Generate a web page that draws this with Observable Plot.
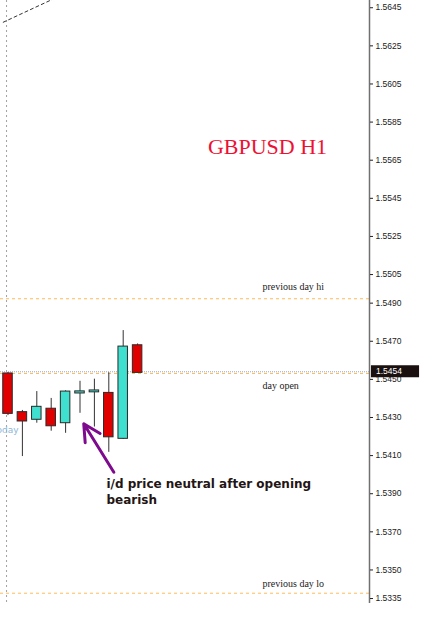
<!DOCTYPE html>
<html>
<head>
<meta charset="utf-8">
<script src="https://cdn.jsdelivr.net/npm/d3@7"></script>
<script src="https://cdn.jsdelivr.net/npm/@observablehq/plot@0.6"></script>
<style>
  html, body { margin: 0; padding: 0; background: #ffffff; }
  #chart svg { display: block; overflow: hidden; }
</style>
</head>
<body>
<div id="chart"></div>
<script>
// ---- Data (GBPUSD H1 candles) ----
const barIndex = [0, 1, 2, 3, 4, 5, 6, 7, 8, 9];
const opens  = [1.54531, 1.54328, 1.54288, 1.54346, 1.54270, 1.54426, 1.54432, 1.54429, 1.54188, 1.54679];
const highs  = [1.54536, 1.54337, 1.54436, 1.54400, 1.54440, 1.54490, 1.54501, 1.54535, 1.54756, 1.54686];
const lows   = [1.54310, 1.54095, 1.54270, 1.54228, 1.54217, 1.54322, 1.54250, 1.54117, 1.54185, 1.54534];
const closes = [1.54319, 1.54279, 1.54356, 1.54254, 1.54436, 1.54437, 1.54442, 1.54196, 1.54672, 1.54534];

const tickValues = [1.5645, 1.5625, 1.5605, 1.5585, 1.5565, 1.5545, 1.5525, 1.5505, 1.5490,
                    1.5470, 1.5450, 1.5430, 1.5410, 1.5390, 1.5370, 1.5350, 1.5335];

const prevDayHi = 1.54923;
const prevDayLo = 1.53378;
const dayOpen = 1.54531;
const currentPrice = 1.5454;
const todayBar = -0.1;

const levelLabels = ["previous day hi", "day open", "previous day lo"];
const levelLabelY = [1.54987, 1.54464, 1.53427];

const title = "GBPUSD H1";
const noteLines = ["i/d price neutral after opening", "bearish"];
const noteY = [1.53948, 1.53864];

const trendX = [-0.33, 3.6];
const trendY = [1.56374, 1.56512];

const arrowFrom = {x: 7.35, y: 1.54013};
const arrowTo = {x: 5.26, y: 1.54267};

// ---- Build table ----
const candles = barIndex.map((i, k) => ({
  i, open: opens[k], high: highs[k], low: lows[k], close: closes[k],
  bull: closes[k] >= opens[k]
}));

const xDomain = [-0.521, 25.104];
const yDomain = [1.53324, 1.56488];
const halfW = 0.33;

const chart = Plot.plot({
  width: 421,
  height: 625,
  marginLeft: 0,
  marginRight: 52,
  marginTop: 0,
  marginBottom: 22,
  style: {background: "#ffffff", overflow: "hidden"},
  x: {domain: xDomain, axis: null},
  y: {domain: yDomain, axis: null},
  marks: [
    // vertical "today" separator
    Plot.ruleX([todayBar], {stroke: "#a0a0a0", strokeDasharray: "2,3", strokeWidth: 1}),
    // levels
    Plot.ruleY([prevDayHi], {x1: xDomain[0], x2: xDomain[1], stroke: "#ffbb55", strokeDasharray: "3,3", strokeWidth: 1}),
    Plot.ruleY([prevDayLo], {x1: xDomain[0], x2: xDomain[1], stroke: "#ffbb55", strokeDasharray: "3,3", strokeWidth: 1}),
    Plot.ruleY([currentPrice], {x1: xDomain[0], x2: xDomain[1], stroke: "#98a8c8", strokeDasharray: "1,1", strokeWidth: 1}),
    Plot.ruleY([dayOpen], {x1: xDomain[0], x2: xDomain[1], stroke: "#ffbb55", strokeDasharray: "3,3", strokeWidth: 1}),
    // trend line (dashed, top-left)
    Plot.line(trendX.map((x, k) => ({x, y: trendY[k]})), {x: "x", y: "y", stroke: "#333", strokeDasharray: "3,3", strokeWidth: 1, clip: true}),
    // wicks
    Plot.ruleX(candles, {x: "i", y1: "low", y2: "high", stroke: "#333", strokeWidth: 1}),
    // bodies
    Plot.rect(candles, {
      x1: d => d.i - halfW, x2: d => d.i + halfW,
      y1: d => Math.min(d.open, d.close), y2: d => Math.max(d.open, d.close),
      fill: d => d.bull ? "#3fe0d0" : "#e00000",
      stroke: "#2a2a2a", strokeWidth: 1, inset: 0
    }),
    // today label
    Plot.text(["today"], {x: 0.73, y: 1.54235, textAnchor: "end", fill: "#8fb6d6", fontSize: 9, fontFamily: "DejaVu Sans"}),
    // title
    Plot.text([title], {x: 18.02, y: 1.55717, fill: "#ee1133", fontSize: 22, fontFamily: "Liberation Serif"}),
    // level labels
    Plot.text(levelLabels, {x: 17.67, y: (d, k) => levelLabelY[k], textAnchor: "start", fill: "#222", fontSize: 10, fontFamily: "Liberation Serif"}),
    // arrow
    Plot.arrow([{x1: arrowFrom.x, y1: arrowFrom.y, x2: arrowTo.x, y2: arrowTo.y}], {
      x1: "x1", y1: "y1", x2: "x2", y2: "y2", stroke: "#7e0a8e", strokeWidth: 3, headLength: 16, headAngle: 55
    }),
    // note
    Plot.text(noteLines, {x: 6.84, y: (d, k) => noteY[k], textAnchor: "start", fill: "#241515", fontSize: 12, fontWeight: "bold", fontFamily: "DejaVu Sans"}),
    // right price axis
    Plot.ruleX([xDomain[1]], {stroke: "#707070", strokeWidth: 1.5}),
    Plot.axisY(tickValues, {anchor: "right", tickSize: 3, tickPadding: 3, tickFormat: d => d.toFixed(4), fontSize: 8.5, fontFamily: "Liberation Sans", color: "#222"}),
    // current price box
    Plot.rect([currentPrice], {x1: 25.24, x2: 28.58, y1: d => d - 0.000315, y2: d => d + 0.000315, fill: "#1a1010"}),
    Plot.text([currentPrice], {x: 25.55, y: d => d, text: d => d.toFixed(4), textAnchor: "start", fill: "#ffffff", fontSize: 8.5, fontFamily: "Liberation Sans"})
  ]
});
document.getElementById("chart").appendChild(chart);
</script>
</body>
</html>
